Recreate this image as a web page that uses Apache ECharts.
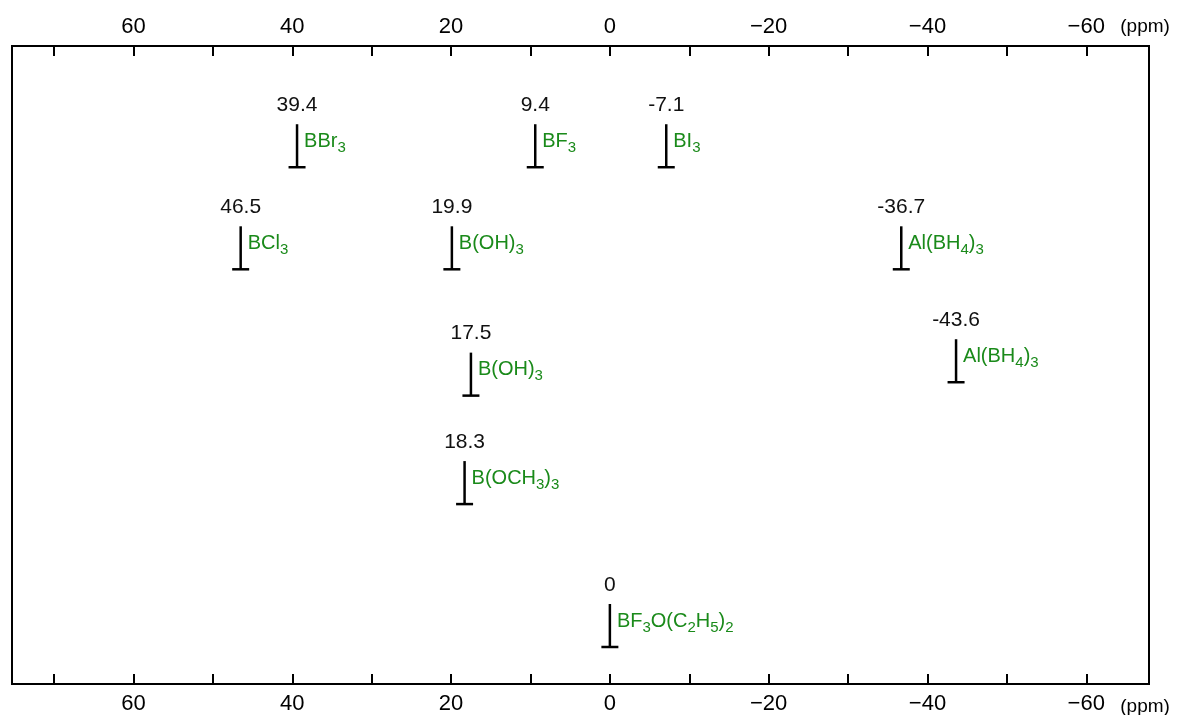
<!DOCTYPE html>
<html>
<head>
<meta charset="utf-8">
<script src="https://cdn.jsdelivr.net/npm/echarts@6/dist/echarts.min.js"></script>
<style>
  html, body { margin: 0; padding: 0; background: #fff; }
  #chart { width: 1180px; height: 715px; }
</style>
</head>
<body>
<div id="chart"></div>
<script>
// 11B chemical shifts (ppm) relative to BF3·O(C2H5)2
const shifts = [39.4, 9.4, -7.1, 46.5, 19.9, -36.7, -43.6, 17.5, 18.3, 0];
// "_n" marks a subscript digit
const compounds = ['BBr_3', 'BF_3', 'BI_3', 'BCl_3', 'B(OH)_3', 'Al(BH_4)_3', 'Al(BH_4)_3', 'B(OH)_3', 'B(OCH_3)_3', 'BF_3O(C_2H_5)_2'];
// row (vertical level) of each peak marker, 0 = top of plot, 10 = bottom
const rows = [1.9, 1.9, 1.9, 3.5, 3.5, 3.5, 5.27, 5.48, 7.18, 9.42];
// axis ticks and labels (ppm)
const tickValues = [70, 60, 50, 40, 30, 20, 10, 0, -10, -20, -30, -40, -50, -60];
const labelValues = [60, 40, 20, 0, -20, -40, -60];
const unitText = '(ppm)';

const FONT = '"Liberation Sans", Arial, sans-serif';
const GREEN = '#1a8a1a';

function toRich(name) {
  return name.split(/(_\d)/).filter(Boolean)
    .map(p => p[0] === '_' ? '{s|' + p.slice(1) + '}' : '{m|' + p + '}')
    .join('');
}

function ppmAxis(position) {
  const top = position === 'top';
  return {
    type: 'value',
    position: position,
    inverse: true,
    min: -67.9,
    max: 75.3,
    splitLine: { show: false },
    axisLine: { show: true, onZero: false, lineStyle: { color: '#000', width: 2 } },
    axisTick: { show: true, inside: true, length: 10, customValues: tickValues,
                lineStyle: { color: '#000', width: 2 } },
    axisLabel: {
      show: true, customValues: labelValues, margin: top ? 8 : 9,
      fontSize: 22, fontFamily: FONT, color: '#000',
      formatter: v => (v < 0 ? '\u2212' + Math.abs(v) : String(v))
    }
  };
}

const chart = echarts.init(document.getElementById('chart'), null, { renderer: 'canvas' });

chart.setOption({
  animation: false,
  backgroundColor: '#fff',
  grid: { left: 12, right: 31, top: 46, bottom: 27, show: true,
          borderColor: '#000', borderWidth: 2, backgroundColor: 'transparent' },
  xAxis: [ppmAxis('top'), ppmAxis('bottom')],
  yAxis: { type: 'value', inverse: true, min: 0, max: 10, show: false },
  series: [{
    type: 'custom',
    xAxisIndex: 0,
    data: shifts.map((v, i) => [v, rows[i]]),
    renderItem: function (params, api) {
      const i = params.dataIndex;
      const p = api.coord([api.value(0), api.value(1)]);
      const x = p[0], base = p[1];
      const h = 43, half = 8.5;
      const topY = base - h;
      const stroke = { stroke: '#000', lineWidth: 2.5 };
      return {
        type: 'group',
        children: [
          { type: 'line', shape: { x1: x, y1: base, x2: x, y2: topY }, style: stroke },
          { type: 'line', shape: { x1: x - half, y1: base, x2: x + half, y2: base }, style: stroke },
          { type: 'text', x: x, y: topY - 19,
            style: { text: String(shifts[i]), fontSize: 21, fontFamily: FONT, fill: '#111',
                     align: 'center', verticalAlign: 'middle' } },
          { type: 'text', x: x + 7, y: topY + 17,
            style: {
              text: toRich(compounds[i]), align: 'left', verticalAlign: 'middle',
              fontFamily: FONT, fill: GREEN,
              rich: {
                m: { fontSize: 20, lineHeight: 28, fontFamily: FONT, fill: GREEN },
                s: { fontSize: 15, lineHeight: 13, fontFamily: FONT, fill: GREEN, verticalAlign: 'bottom' }
              }
            } }
        ]
      };
    }
  }]
});

// unit label to the right of the last tick label on both axes
const unitX = chart.convertToPixel({ xAxisIndex: 0 }, -60) + 34;
chart.setOption({
  graphic: [
    { type: 'text', x: unitX, y: 27, style: { text: unitText, fontSize: 19, fontFamily: FONT, fill: '#000', align: 'left', verticalAlign: 'middle' } },
    { type: 'text', x: unitX, y: 707, style: { text: unitText, fontSize: 19, fontFamily: FONT, fill: '#000', align: 'left', verticalAlign: 'middle' } }
  ]
});
</script>
</body>
</html>
